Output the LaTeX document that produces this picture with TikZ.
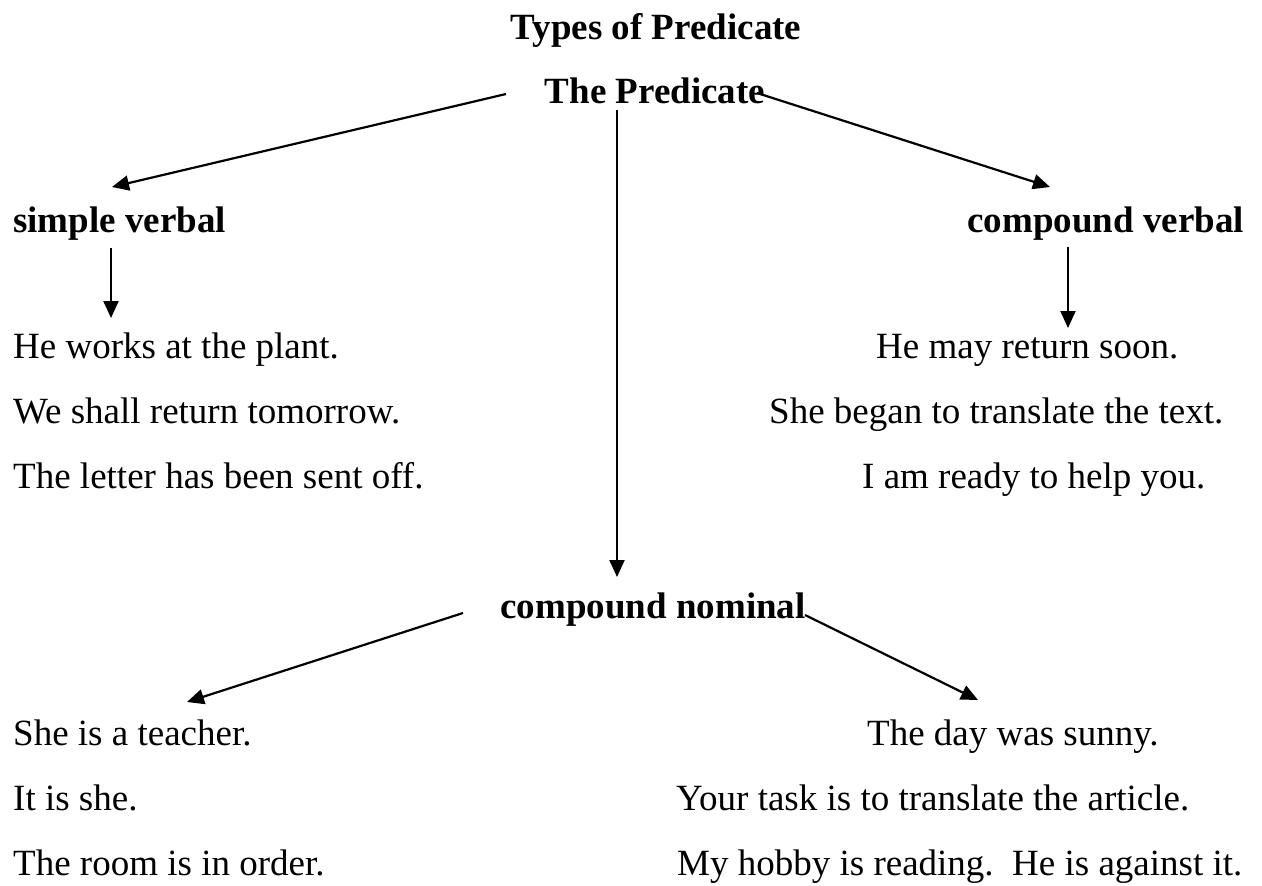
\documentclass[tikz,border=0pt]{standalone}
\usepackage{fontspec}
\setmainfont{Liberation Serif}
\usetikzlibrary{arrows.meta}
\tikzset{
  head/.style={font=\fontsize{37}{44}\selectfont\bfseries, inner sep=0pt},
  ex/.style={font=\fontsize{37}{44}\selectfont, inner sep=0pt, anchor=base west},
  link/.style={line width=2.2pt, -{Triangle[length=17pt,width=15pt]}},
}
\begin{document}
\begin{tikzpicture}[x=1pt,y=-1pt]
\useasboundingbox (0,0) rectangle (1262,886);

% headings
\node[head, anchor=base] (title) at (656,39) {Types of Predicate};
\node[head, anchor=base] (pred) at (655,103) {The Predicate};
\node[head, anchor=base west] (sv) at (13,232) {simple verbal};
\node[head, anchor=base east] (cv) at (1244,232) {compound verbal};
\node[head, anchor=base] (cn) at (653,618) {compound nominal};

% examples: simple verbal
\node[ex] (sv1) at (13,358) {He works at the plant.};
\node[ex] (sv2) at (13,423) {We shall return tomorrow.};
\node[ex] (sv3) at (13,488) {The letter has been sent off.};

% examples: compound verbal
\node[ex] (cv1) at (876,358) {He may return soon.};
\node[ex] (cv2) at (769,423) {She began to translate the text.};
\node[ex] (cv3) at (862,488) {I am ready to help you.};

% examples: compound nominal
\node[ex] (cn1) at (13,745) {She is a teacher.};
\node[ex] (cn2) at (13,810) {It is she.};
\node[ex] (cn3) at (13,875) {The room is in order.};
\node[ex] (cn4) at (867,745) {The day was sunny.};
\node[ex] (cn5) at (676,810) {Your task is to translate the article.};
\node[ex] (cn6) at (677,875) {My hobby is reading.\ \ He is against it.};

% connector ends
\coordinate (pl) at (506,94);
\coordinate (pr) at (757,93);
\coordinate (pd) at (617,110);
\coordinate (svtop) at (112,187);
\coordinate (cvtop) at (1050,187);
\coordinate (cntop) at (617,577);
\coordinate (svs) at (111,248);
\coordinate (sve) at (111,318);
\coordinate (cvs) at (1068,247);
\coordinate (cve) at (1068,328);
\coordinate (cnl) at (463,613);
\coordinate (cnr) at (805,615);
\coordinate (cnle) at (187,702);
\coordinate (cnre) at (978,700);

% connectors
\draw[link] (pl) -- (svtop);
\draw[link] (pr) -- (cvtop);
\draw[link] (pd) -- (cntop);
\draw[link] (svs) -- (sve);
\draw[link] (cvs) -- (cve);
\draw[link] (cnl) -- (cnle);
\draw[link] (cnr) -- (cnre);
\end{tikzpicture}
\end{document}
